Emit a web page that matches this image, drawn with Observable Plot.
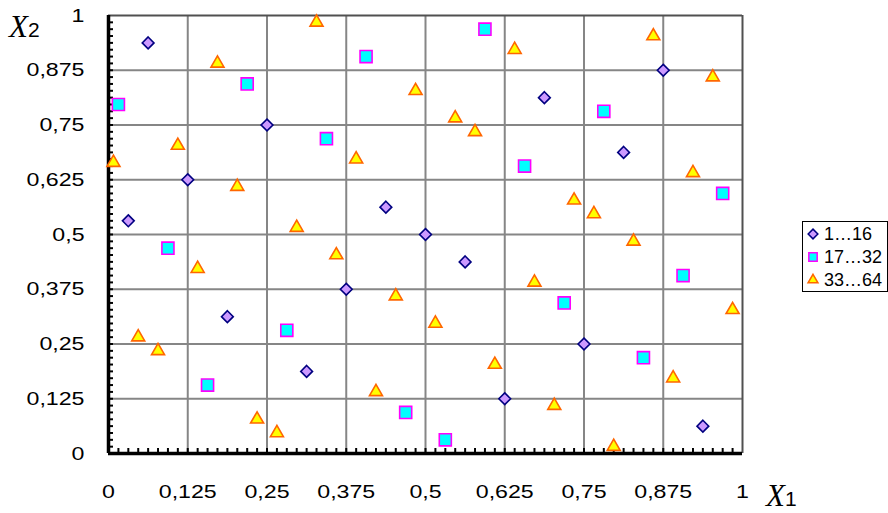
<!DOCTYPE html>
<html><head><meta charset="utf-8">
<script src="https://cdn.jsdelivr.net/npm/d3@7"></script>
<script src="https://cdn.jsdelivr.net/npm/@observablehq/plot@0.6"></script>
<style>
body{margin:0;background:#fff;}
#wrap{position:relative;width:888px;height:513px;font-family:"Liberation Sans",Arial,sans-serif;}
#legend{position:absolute;left:802px;top:221px;width:86px;height:71px;border:1px solid #000;box-sizing:border-box;background:#fff;font-size:18px;color:#000;}
#legend .row{position:absolute;left:0;height:22px;line-height:22px;white-space:nowrap;}
#legend svg{position:absolute;left:4px;top:5px;overflow:visible;}
#legend span{position:absolute;left:21px;top:0;}
</style></head>
<body><div id="wrap"><div id="legend"></div></div>
<script>
// Series 1…16 (diamonds)
const x1_16 = [0.5, 0.25, 0.75, 0.125, 0.625, 0.375, 0.875, 0.0625, 0.5625, 0.3125, 0.8125, 0.1875, 0.6875, 0.4375, 0.9375, 0.03125];
const y1_16 = [0.5, 0.75, 0.25, 0.625, 0.125, 0.375, 0.875, 0.9375, 0.4375, 0.1875, 0.6875, 0.3125, 0.8125, 0.5625, 0.0625, 0.53125];
// Series 17…32 (squares)
const x17_32 = [0.53125, 0.28125, 0.78125, 0.15625, 0.65625, 0.40625, 0.90625, 0.09375, 0.59375, 0.34375, 0.84375, 0.21875, 0.71875, 0.46875, 0.96875, 0.015625];
const y17_32 = [0.03125, 0.28125, 0.78125, 0.15625, 0.65625, 0.90625, 0.40625, 0.46875, 0.96875, 0.71875, 0.21875, 0.84375, 0.34375, 0.09375, 0.59375, 0.796875];
// Series 33…64 (triangles)
const x33_64 = [0.515625, 0.265625, 0.765625, 0.140625, 0.640625, 0.390625, 0.890625, 0.078125, 0.578125, 0.328125, 0.828125, 0.203125, 0.703125, 0.453125, 0.953125, 0.046875, 0.546875, 0.296875, 0.796875, 0.171875, 0.671875, 0.421875, 0.921875, 0.109375, 0.609375, 0.359375, 0.859375, 0.234375, 0.734375, 0.484375, 0.984375, 0.0078125];
const y33_64 = [0.296875, 0.046875, 0.546875, 0.421875, 0.921875, 0.671875, 0.171875, 0.234375, 0.734375, 0.984375, 0.484375, 0.609375, 0.109375, 0.359375, 0.859375, 0.265625, 0.765625, 0.515625, 0.015625, 0.890625, 0.390625, 0.140625, 0.640625, 0.703125, 0.203125, 0.453125, 0.953125, 0.078125, 0.578125, 0.828125, 0.328125, 0.6640625];

const seriesNames = ["1…16", "17…32", "33…64"];
const tickValues = [0, 0.125, 0.25, 0.375, 0.5, 0.625, 0.75, 0.875, 1];
const tickLabels = ["0", "0,125", "0,25", "0,375", "0,5", "0,625", "0,75", "0,875", "1"];
const gridValues = tickValues.slice(1, -1);
const minorValues = d3.range(1, 64).map(k => k / 64);

const styles = [
  {symbol: "diamond2", r: 5.3, fill: "#CC99FF", stroke: "#000080", strokeWidth: 1.6},
  {symbol: "square", r: 6.8, fill: "#00FFFF", stroke: "#FF00FF", strokeWidth: 1.6},
  {symbol: "triangle2", r: 6.2, fill: "#FFFF00", stroke: "#FF6600", strokeWidth: 1.6}
];

const toPts = (xs, ys) => xs.map((x, i) => ({x, y: ys[i]}));
const s1 = toPts(x1_16, y1_16), s2 = toPts(x17_32, y17_32), s3 = toPts(x33_64, y33_64);
const labelMap = new Map(tickValues.map((v, i) => [v, tickLabels[i]]));

const W = 888, H = 513, mL = 108, mR = 146, mT = 15, mB = 60;
const tickPx = 5;
const tLenX = tickPx / (H - mT - mB);
const tLenY = tickPx / (W - mL - mR);

const chart = Plot.plot({
  width: W, height: H,
  marginLeft: mL, marginRight: mR, marginTop: mT, marginBottom: mB,
  x: {domain: [0, 1]},
  y: {domain: [0, 1]},
  style: {fontFamily: "'Liberation Sans', Arial, sans-serif", fontSize: "19px", color: "#000", background: "transparent", overflow: "visible"},
  marks: [
    Plot.ruleX(gridValues, {stroke: "#868686", strokeWidth: 2, strokeOpacity: 1}),
    Plot.ruleY(gridValues, {stroke: "#868686", strokeWidth: 2, strokeOpacity: 1}),
    Plot.ruleY([1], {stroke: "#505050", strokeWidth: 2}),
    Plot.ruleX([1], {stroke: "#505050", strokeWidth: 2}),
    Plot.ruleX(minorValues, {x: d => d, y1: 0, y2: tLenX, stroke: "#000", strokeWidth: 2}),
    Plot.ruleY(minorValues, {y: d => d, x1: 0, x2: tLenY, stroke: "#000", strokeWidth: 2}),
    Plot.ruleX([0], {stroke: "#000", strokeWidth: 3.5}),
    Plot.ruleY([0], {stroke: "#000", strokeWidth: 3.5}),
    Plot.axisX(tickValues, {tickSize: 0, tickPadding: 31, tickFormat: d => labelMap.get(d), label: null, fontSize: 19}),
    Plot.axisY(tickValues, {tickSize: 0, tickPadding: 24, tickFormat: d => labelMap.get(d), label: null, fontSize: 19}),
    Plot.dot(s1, {x: "x", y: "y", ...styles[0]}),
    Plot.dot(s2, {x: "x", y: "y", ...styles[1]}),
    Plot.dot(s3, {x: "x", y: "y", ...styles[2]})
  ]
});

document.getElementById("wrap").prepend(chart);

// widen tick labels like the reference
d3.select(chart).selectAll('g[aria-label="x-axis tick label"] text, g[aria-label="y-axis tick label"] text').each(function() {
  const l = this.getComputedTextLength();
  this.setAttribute("textLength", (l * 1.22).toFixed(1));
  this.setAttribute("lengthAdjust", "spacingAndGlyphs");
});

// axis titles
const svg = d3.select(chart);
function title(x, y, main, sub) {
  const t = svg.append("text").attr("x", x).attr("y", y).attr("fill", "#000").attr("text-anchor", "start");
  t.append("tspan").attr("font-family", "'Liberation Serif', 'Times New Roman', serif").attr("font-style", "italic").attr("font-size", 31).text(main);
  t.append("tspan").attr("font-family", "'Liberation Sans', Arial, sans-serif").attr("font-size", 21).text(sub);
}
title(9, 37, "X", "2");
title(766, 506, "X", "1");

// legend
const legend = d3.select("#legend");
styles.forEach((s, i) => {
  const row = legend.append("div").attr("class", "row").style("top", (1 + i * 23) + "px");
  const sv = row.append("svg").attr("width", 12).attr("height", 12);
  const sym = {diamond2: d3.symbolDiamond2, square: d3.symbolSquare, triangle2: d3.symbolTriangle2}[s.symbol];
  const size = {diamond2: 60, square: 70, triangle2: 70}[s.symbol];
  sv.append("path").attr("transform", "translate(6,6)").attr("d", d3.symbol(sym, size)())
    .attr("fill", s.fill).attr("stroke", s.stroke).attr("stroke-width", 1.5);
  row.append("span").text(seriesNames[i]);
});
</script>
</body></html>
